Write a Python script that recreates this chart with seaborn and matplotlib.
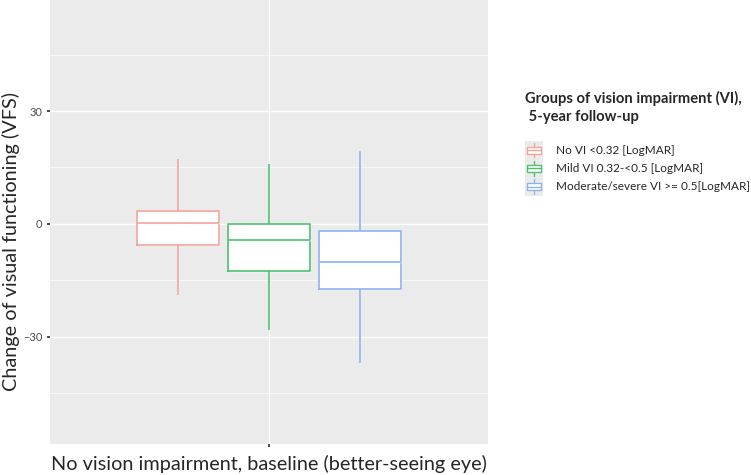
import pandas as pd
import numpy as np
import matplotlib.pyplot as plt
import seaborn as sns
from matplotlib.patches import Patch, Rectangle
from matplotlib.lines import Line2D
from matplotlib.legend_handler import HandlerBase

# five-number summaries: min, q1, median, q3, max
groups = ['No VI <0.32 [LogMAR]', 'Mild VI 0.32-<0.5 [LogMAR]', 'Moderate/severe VI >= 0.5[LogMAR]']
no_vi = [-18.9, -5.7, 0.2, 3.5, 17.3]
mild_vi = [-28.2, -12.4, -4.2, 0.1, 15.8]
mod_vi = [-36.9, -17.3, -10.0, -1.8, 19.4]
colors = ['#F2A49C', '#4DC170', '#8EB3EE']

df = pd.DataFrame({
    'group': np.repeat(groups, 5),
    'vfs': no_vi + mild_vi + mod_vi,
})
df['x'] = ''


# ggplot-like legend key: grey square with a little boxplot glyph
class BoxKey(HandlerBase):
    def create_artists(self, legend, orig_handle, xdescent, ydescent, width, height, fontsize, trans):
        c = orig_handle.get_edgecolor()
        x0, y0 = -xdescent, -ydescent
        bg = Rectangle((x0, y0), width, height, facecolor='#EBEBEB', edgecolor='none', transform=trans)
        box = Rectangle((x0 + 0.1 * width, y0 + 0.3 * height), 0.8 * width, 0.4 * height,
                        facecolor='white', edgecolor=c, lw=1, transform=trans)
        xm = x0 + width / 2
        w1 = Line2D([xm, xm], [y0 + 0.1 * height, y0 + 0.3 * height], color=c, lw=1, transform=trans)
        w2 = Line2D([xm, xm], [y0 + 0.7 * height, y0 + 0.9 * height], color=c, lw=1, transform=trans)
        med = Line2D([x0 + 0.1 * width, x0 + 0.9 * width], [y0 + 0.5 * height] * 2, color=c, lw=1, transform=trans)
        return [bg, box, w1, w2, med]


sns.set_theme(style='darkgrid', rc={'axes.facecolor': '#EBEBEB', 'grid.color': 'white'})
plt.rcParams['font.family'] = ['Lato', 'DejaVu Sans']

fig = plt.figure(figsize=(7.51, 4.75), dpi=100)
ax = fig.add_axes([50 / 751, 31 / 475, 438 / 751, 444 / 475])

# white boxes underneath, coloured outlines on top
sns.boxplot(data=df, x='x', y='vfs', hue='group', palette=['white'] * 3, linecolor='white',
            width=0.75, gap=0.1, whis=(0, 100), showcaps=False, legend=False, ax=ax)
sns.boxplot(data=df, x='x', y='vfs', hue='group', palette=colors, fill=False, linewidth=1.2,
            width=0.75, gap=0.1, whis=(0, 100), showcaps=False, legend=False, ax=ax)

ax.set_xlim(-0.6, 0.6)
ax.set_ylim(-58.5, 59.5)
ax.set_yticks([-30, 0, 30])
ax.set_yticks([-45, -15, 15, 45], minor=True)
ax.grid(which='major', color='white', linewidth=1.0)
ax.grid(which='minor', axis='y', color='white', linewidth=0.5)
ax.tick_params(axis='y', which='major', labelsize=8, labelcolor='#4D4D4D', length=2.5, color='#333333', left=True, pad=3)
ax.tick_params(axis='y', which='minor', length=0)
ax.tick_params(axis='x', length=2.5, color='#333333', bottom=True)
for s in ax.spines.values():
    s.set_visible(False)

ax.set_ylabel('Change of visual functioning (VFS)', fontsize=14.3)
ax.yaxis.set_label_coords(-0.068, 0.457)
ax.set_xlabel('No vision impairment, baseline (better-seeing eye)', fontsize=14.3, labelpad=2)

handles = [Patch(edgecolor=c, facecolor='white') for c in colors]
leg = fig.legend(handles, groups, title='Groups of vision impairment (VI),\n 5-year follow-up',
                 loc='upper left', bbox_to_anchor=(519 / 751, 1 - 85 / 475), frameon=False,
                 fontsize=8.5, title_fontproperties={'weight': 'bold', 'size': 10.6},
                 handler_map={Patch: BoxKey()}, borderpad=0,
                 handlelength=1.55, handleheight=2.0, labelspacing=0.0, handletextpad=1.05)
leg._legend_box.align = 'left'
leg._legend_box.sep = 12
leg.get_title().set_linespacing(1.4)

plt.savefig('out.png', dpi=100)
